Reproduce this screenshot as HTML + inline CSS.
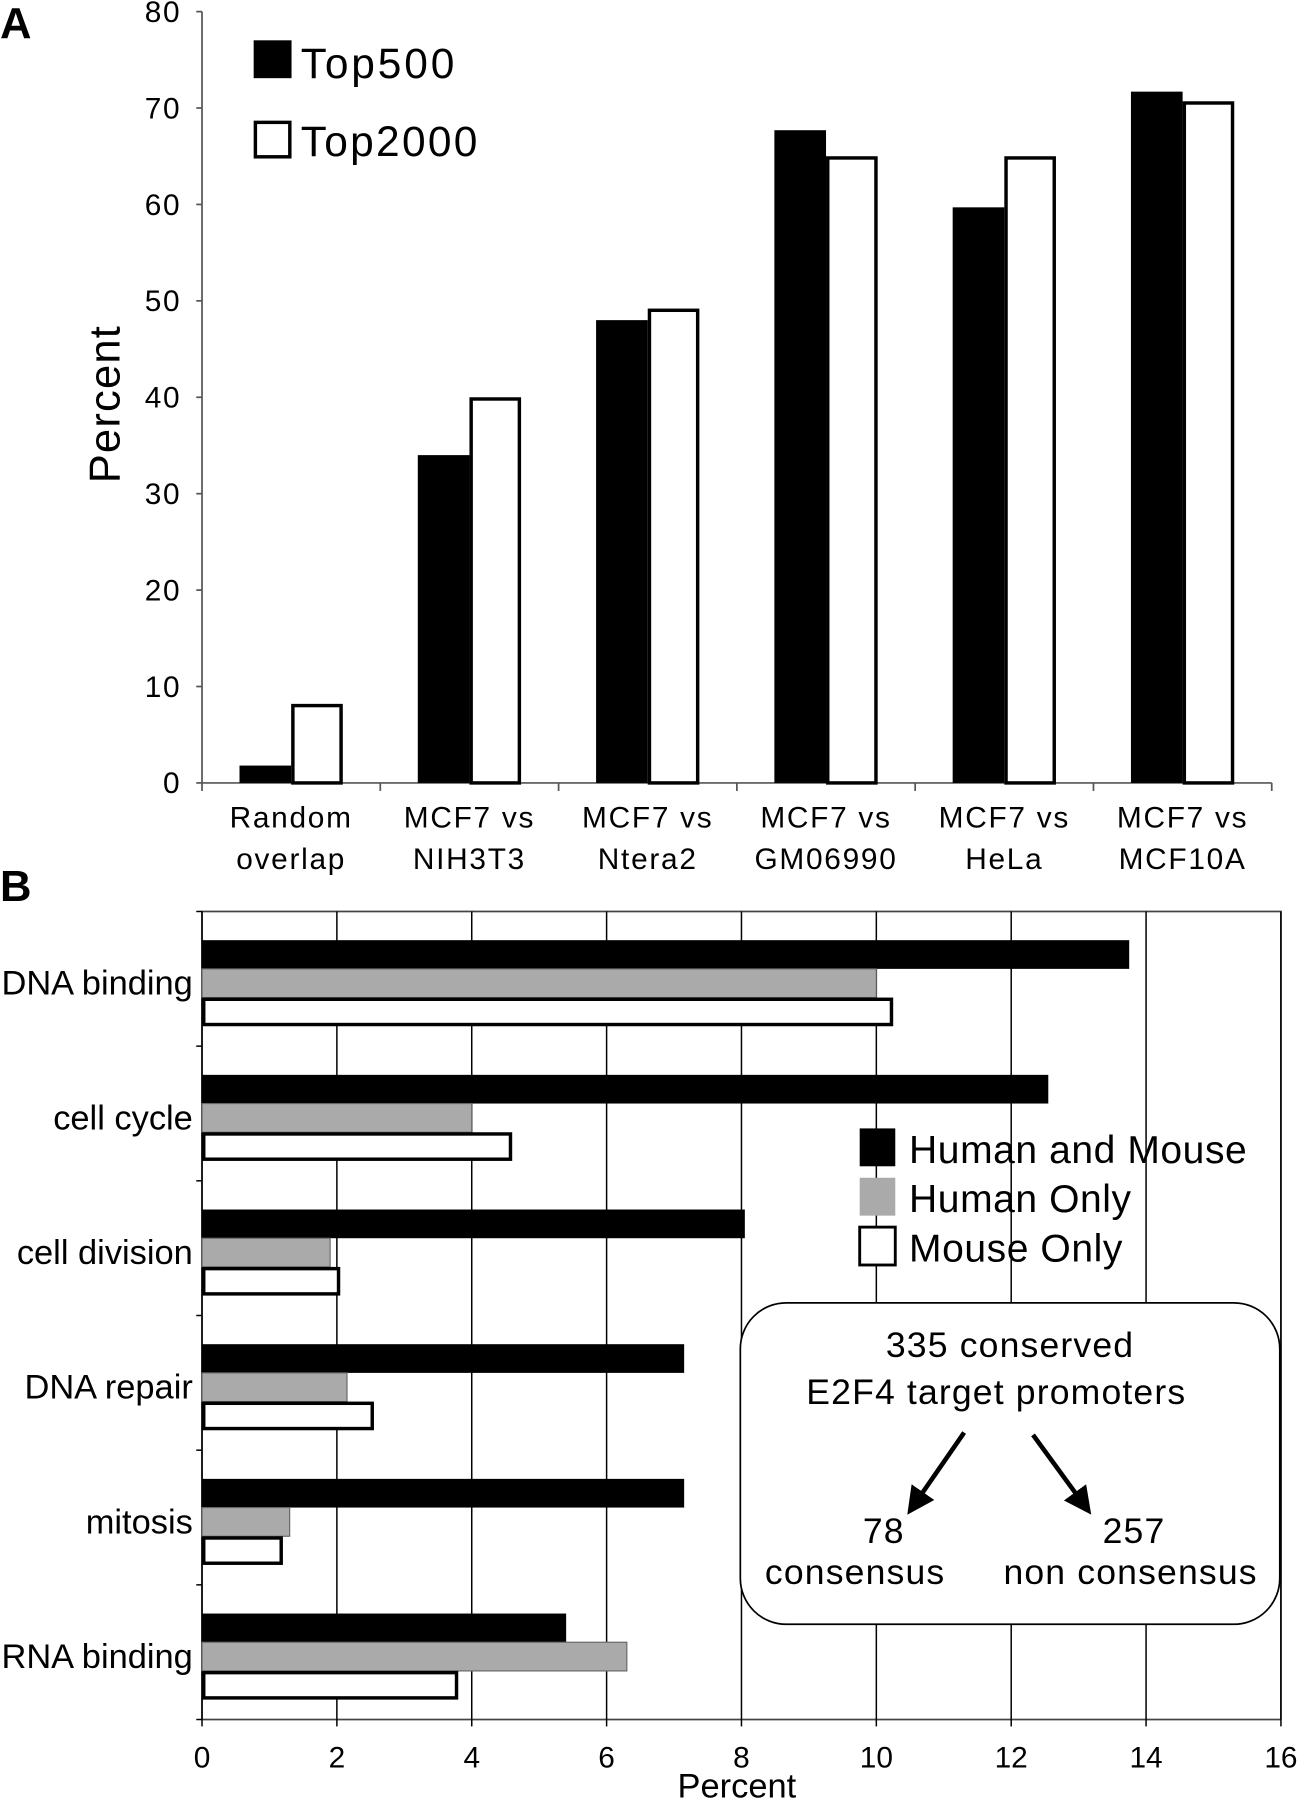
<!DOCTYPE html>
<html><head><meta charset="utf-8"><style>html,body{margin:0;padding:0;background:#fff}svg{display:block}text{font-family:"Liberation Sans","DejaVu Sans",sans-serif;fill:#000}</style></head>
<body>
<svg id="fig" width="1297" height="1800" viewBox="0 0 1130 1568" xmlns="http://www.w3.org/2000/svg">
<text x="0" y="33" font-size="38" font-weight="bold">A</text>
<text x="0" y="785" font-size="38" font-weight="bold">B</text>
<g id="ga"></g>
<g id="gb"></g>
</svg>
<script>
const aCategories=[["Random","overlap"],["MCF7 vs","NIH3T3"],["MCF7 vs","Ntera2"],["MCF7 vs","GM06990"],["MCF7 vs","HeLa"],["MCF7 vs","MCF10A"]];
const aTop500=[1.8,34,48,67.7,59.7,71.7];
const aTop2000=[8.2,40,49.2,65,65,70.7];
const aTicks=[0,10,20,30,40,50,60,70,80];
const bCategories=["DNA binding","cell cycle","cell division","DNA repair","mitosis","RNA binding"];
const bBoth=[13.75,12.55,8.05,7.15,7.15,5.4];
const bHuman=[10,4,1.9,2.15,1.3,6.3];
const bMouse=[10.25,4.6,2.05,2.55,1.2,3.8];
const bTicks=[0,2,4,6,8,10,12,14,16];

const NS="http://www.w3.org/2000/svg";
function mk(p,t,a,txt){const e=document.createElementNS(NS,t);for(const k in a)e.setAttribute(k,a[k]);if(txt!==undefined)e.textContent=txt;p.appendChild(e);return e;}

// Panel A
const ga=document.getElementById('ga');
const ax0=176,ax1=1108,ay0=682,ay1=10;
const ya=v=>ay0-(v/80)*(ay0-ay1);
const cw=(ax1-ax0)/aCategories.length;
let e;
e=mk(ga,'line',{x1:ax0,y1:ay1,x2:ax0,y2:ay0,stroke:'#555','stroke-width':1.5});

e=mk(ga,'line',{x1:ax0,y1:ay0,x2:ax1,y2:ay0,stroke:'#555','stroke-width':1.5});

aTicks.forEach(t=>{
  mk(ga,'line',{x1:ax0-5,y1:ya(t),x2:ax0,y2:ya(t),stroke:'#555','stroke-width':1.5});
  e=mk(ga,'text',{x:158,y:ya(t)+9,'font-size':26,'text-anchor':'end','letter-spacing':1.5},String(t));
  
});
for(let i=0;i<=aCategories.length;i++){mk(ga,'line',{x1:ax0+i*cw,y1:ay0,x2:ax0+i*cw,y2:ay0+7,stroke:'#555','stroke-width':1.5});}
aCategories.forEach((c,i)=>{
  const cx=ax0+i*cw+cw/2;
  const bw=45;
  e=mk(ga,'rect',{x:cx-bw,y:ya(aTop500[i]),width:bw,height:ay0-ya(aTop500[i]),fill:'#000'});
  
  e=mk(ga,'rect',{x:cx+1.5,y:ya(aTop2000[i])+1.5,width:bw-3,height:ay0-ya(aTop2000[i])-1.5,fill:'#fff',stroke:'#000','stroke-width':3});
  
  e=mk(ga,'text',{x:cx,y:721,'font-size':26,'text-anchor':'middle','letter-spacing':1.5},c[0]);
  
  e=mk(ga,'text',{x:cx,y:757,'font-size':26,'text-anchor':'middle','letter-spacing':1.5},c[1]);
  
});
e=mk(ga,'text',{x:0,y:0,'font-size':38,'text-anchor':'middle','letter-spacing':1,transform:'translate(104,352) rotate(-90)'},'Percent');

e=mk(ga,'rect',{x:221,y:35,width:33,height:33,fill:'#000'});

e=mk(ga,'text',{x:262,y:68,'font-size':37,'letter-spacing':2.5},'Top500');

e=mk(ga,'rect',{x:222.5,y:106.5,width:30,height:30,fill:'#fff',stroke:'#000','stroke-width':3});

e=mk(ga,'text',{x:262,y:136,'font-size':37,'letter-spacing':2},'Top2000');


// Panel B
const gb=document.getElementById('gb');
const bx0=176,bx1=1116,by0=794,by1=1498;
const xb=v=>bx0+(v/16)*(bx1-bx0);
const ch=(by1-by0)/bCategories.length;
e=mk(gb,'rect',{x:bx0,y:by0,width:bx1-bx0,height:by1-by0,fill:'none',stroke:'#444','stroke-width':1.5});

bTicks.forEach(t=>{
  mk(gb,'line',{x1:xb(t),y1:by0,x2:xb(t),y2:by1,stroke:'#000','stroke-width':1.3});
  mk(gb,'line',{x1:xb(t),y1:by1,x2:xb(t),y2:by1+6,stroke:'#000','stroke-width':1.3});
  e=mk(gb,'text',{x:xb(t),y:1540,'font-size':26,'text-anchor':'middle'},String(t));
  
});
e=mk(gb,'text',{x:642,y:1566,'font-size':30,'text-anchor':'middle'},'Percent');

for(let i=0;i<=bCategories.length;i++){mk(gb,'line',{x1:bx0-5,y1:by0+i*ch,x2:bx0,y2:by0+i*ch,stroke:'#000','stroke-width':1.3});}
bCategories.forEach((c,i)=>{
  const top=by0+i*ch+25,bh=25;
  e=mk(gb,'rect',{x:bx0,y:top,width:xb(bBoth[i])-bx0,height:bh,fill:'#000'});
  
  e=mk(gb,'rect',{x:bx0,y:top+bh,width:xb(bHuman[i])-bx0,height:bh,fill:'#aaa',stroke:'#666','stroke-width':1});
  
  e=mk(gb,'rect',{x:bx0+1.5,y:top+2*bh+1.5,width:xb(bMouse[i])-bx0-3,height:bh-3,fill:'#fff',stroke:'#000','stroke-width':3});
  
  e=mk(gb,'text',{x:168,y:top+bh*1.5+10,'font-size':30,'text-anchor':'end'},c);
  
});
const leg=[["Human and Mouse","#000"],["Human Only","#aaa"],["Mouse Only","#fff"]];
leg.forEach((l,i)=>{
  const y=983+i*43;
  e=mk(gb,'rect',{x:749,y:y,width:31,height:33,fill:l[1],stroke:l[1]==='#fff'?'#000':'none','stroke-width':2.5});
  
  e=mk(gb,'text',{x:792,y:y+30,'font-size':34,'letter-spacing':0.5},l[0]);
  
});
e=mk(gb,'rect',{x:645,y:1135,width:470,height:280,rx:40,ry:40,fill:'#fff',stroke:'#000','stroke-width':1.5});

[["335 conserved",880,1182],["E2F4 target promoters",868,1223],["78",770,1344],["consensus",745,1380],["257",988,1344],["non consensus",985,1380]].forEach(t=>{
  e=mk(gb,'text',{x:t[1],y:t[2],'font-size':31,'text-anchor':'middle','letter-spacing':1},t[0]);
  
});
mk(gb,'defs',{}).innerHTML='<marker id="ah" markerWidth="6" markerHeight="6" refX="4" refY="3" orient="auto"><path d="M0,0 L6,3 L0,6 z" fill="#000"/></marker>';
e=mk(gb,'line',{x1:840,y1:1248,x2:795,y2:1313,stroke:'#000','stroke-width':4,'marker-end':'url(#ah)'});

e=mk(gb,'line',{x1:900,y1:1250,x2:946,y2:1313,stroke:'#000','stroke-width':4,'marker-end':'url(#ah)'});

</script>
</body></html>
